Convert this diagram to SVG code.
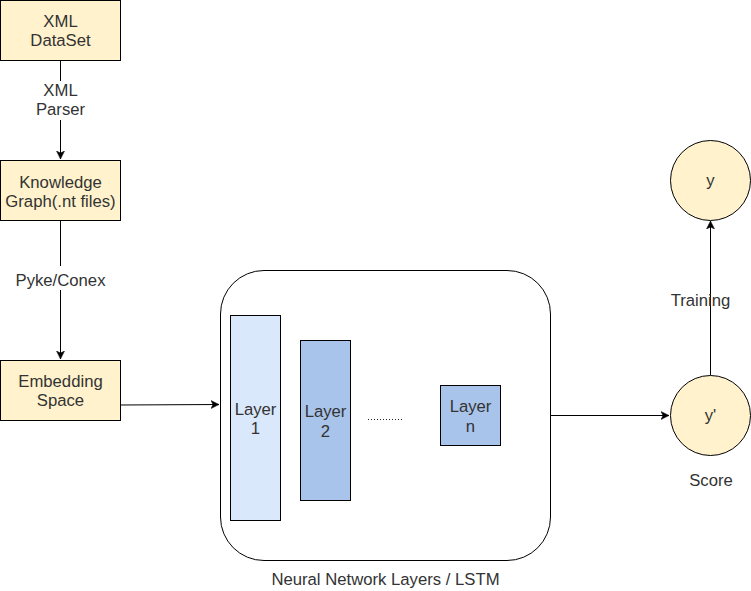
<svg xmlns="http://www.w3.org/2000/svg" width="751" height="591" viewBox="0 0 751 591">
  <style>
    .box { fill: #fff2cc; stroke: #000; stroke-width: 1; }
    .l1 { fill: #dae8fc; stroke: #000; stroke-width: 1; }
    .l2 { fill: #a9c4eb; stroke: #000; stroke-width: 1; }
    .circ { fill: #fff2cc; stroke: #000; stroke-width: 1; }
    .edge { fill: none; stroke: #000; stroke-width: 1; }
    text { font-family: "Liberation Sans", Arial, Helvetica, sans-serif; font-size: 16.7px; fill: #333; text-anchor: middle; }
    .lbl { fill: #fff; stroke: none; }
  </style>
  <defs>
    <marker id="arr" markerUnits="userSpaceOnUse" markerWidth="10" markerHeight="10" refX="8" refY="4" orient="auto" viewBox="0 0 10 8">
      <path d="M0,0 L8,4 L0,8 L2,4 Z" fill="#000" stroke="#000" stroke-width="0.5"/>
    </marker>
  </defs>
  <rect width="751" height="591" fill="#fff"/>

  <g id="xml-dataset">
    <rect class="box" x="0.5" y="0.5" width="120" height="60"/>
    <text x="60.5" y="27">XML</text>
    <text x="60.5" y="46">DataSet</text>
  </g>

  <g id="knowledge-graph">
    <rect class="box" x="0.5" y="160.5" width="120" height="60"/>
    <text x="60.5" y="188">Knowledge</text>
    <text x="60.5" y="207">Graph(.nt files)</text>
  </g>

  <g id="embedding-space">
    <rect class="box" x="0.5" y="360.5" width="120" height="60"/>
    <text x="60.5" y="387">Embedding</text>
    <text x="60.5" y="406">Space</text>
  </g>

  <g id="neural-network">
    <rect x="220.5" y="270.5" width="330" height="290" rx="43.5" ry="43.5" fill="#fff" stroke="#000" stroke-width="1"/>
    <text x="385.5" y="585">Neural Network Layers / LSTM</text>
    <path d="M368,419.5 L403,419.5" stroke="#222" stroke-width="1" stroke-dasharray="1 2" fill="none"/>
  </g>

  <g id="layer-1">
    <rect class="l1" x="230.5" y="315.5" width="50" height="205"/>
    <text x="255.5" y="414.5">Layer</text>
    <text x="255.5" y="434">1</text>
  </g>

  <g id="layer-2">
    <rect class="l2" x="300.5" y="340.5" width="50" height="160"/>
    <text x="325.5" y="417">Layer</text>
    <text x="325.5" y="436.5">2</text>
  </g>

  <g id="layer-n">
    <rect class="l2" x="440.5" y="385.5" width="60" height="60"/>
    <text x="470.5" y="412">Layer</text>
    <text x="470.5" y="431.5">n</text>
  </g>

  <g id="y-pred">
    <circle class="circ" cx="710.5" cy="415.5" r="40"/>
    <text x="710.5" y="421">y'</text>
  </g>

  <g id="score-label">
    <text x="711" y="486">Score</text>
  </g>

  <g id="y-true">
    <circle class="circ" cx="710.5" cy="180.5" r="40"/>
    <text x="710.5" y="186">y</text>
  </g>

  <g id="connectors">
    <path class="edge" d="M60.5,60 L60.5,159" marker-end="url(#arr)"/>
    <rect class="lbl" x="38" y="81" width="45" height="39"/>
    <text x="60.5" y="96">XML</text>
    <text x="60.5" y="115">Parser</text>

    <path class="edge" d="M60.5,220 L60.5,359" marker-end="url(#arr)"/>
    <rect class="lbl" x="15" y="266" width="91" height="24"/>
    <text x="60.5" y="286">Pyke/Conex</text>

    <path class="edge" d="M120,405 L219,404.5" marker-end="url(#arr)"/>
    <path class="edge" d="M550,415.5 L669,415.5" marker-end="url(#arr)"/>
    <path class="edge" d="M710.5,375 L710.5,221" marker-end="url(#arr)"/>
  </g>

  <g id="training-label">
    <text x="700.5" y="306">Training</text>
  </g>
</svg>
